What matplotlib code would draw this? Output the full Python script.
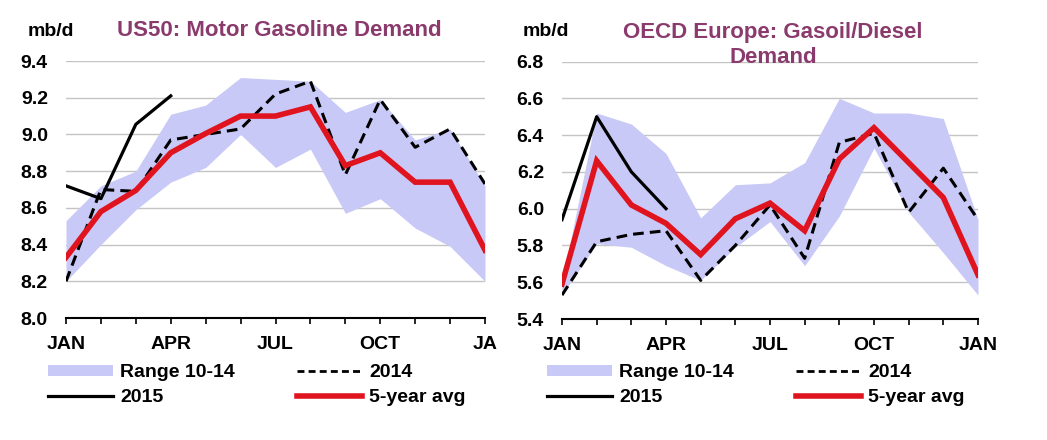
import matplotlib
matplotlib.use("Agg")
import matplotlib.pyplot as plt
from matplotlib.patches import Patch
from matplotlib.lines import Line2D

plt.rcParams['font.family'] = ['Liberation Sans', 'DejaVu Sans']
plt.rcParams['font.weight'] = 'bold'

months = list(range(13))
tick_labels_left = ["JAN", "", "", "APR", "", "", "JUL", "", "", "OCT", "", "", "JA"]
tick_labels_right = ["JAN", "", "", "APR", "", "", "JUL", "", "", "OCT", "", "", "JAN"]

# US50 Motor Gasoline Demand (mb/d)
us_range_low = [8.20, 8.40, 8.59, 8.74, 8.82, 9.00, 8.82, 8.92, 8.57, 8.65, 8.49, 8.39, 8.20]
us_range_high = [8.53, 8.72, 8.80, 9.11, 9.16, 9.31, 9.30, 9.29, 9.12, 9.19, 8.97, 9.03, 8.72]
us_2014 = [8.20, 8.70, 8.69, 8.97, 9.00, 9.03, 9.22, 9.29, 8.78, 9.19, 8.93, 9.03, 8.73]
us_2015 = [8.72, 8.65, 9.055, 9.21]
us_avg = [8.33, 8.58, 8.695, 8.90, 9.005, 9.10, 9.10, 9.15, 8.83, 8.90, 8.74, 8.74, 8.37]
us_yticks = [8.0, 8.2, 8.4, 8.6, 8.8, 9.0, 9.2, 9.4]

# OECD Europe Gasoil/Diesel Demand (mb/d)
eu_range_low = [5.53, 5.81, 5.79, 5.69, 5.61, 5.79, 5.93, 5.69, 5.96, 6.33, 5.98, 5.76, 5.53]
eu_range_high = [5.60, 6.52, 6.46, 6.30, 5.95, 6.13, 6.14, 6.25, 6.60, 6.52, 6.52, 6.49, 5.94]
eu_2014 = [5.53, 5.82, 5.86, 5.88, 5.61, 5.80, 6.02, 5.73, 6.36, 6.41, 5.98, 6.22, 5.94]
eu_2015 = [5.94, 6.50, 6.20, 6.00]
eu_avg = [5.59, 6.26, 6.02, 5.92, 5.75, 5.945, 6.03, 5.88, 6.27, 6.44, 6.25, 6.06, 5.64]
eu_yticks = [5.4, 5.6, 5.8, 6.0, 6.2, 6.4, 6.6, 6.8]

FILL = '#C9C9F7'
RED = '#E0141E'
TITLE = '#8A3A6C'
GRID = '#C4C4C4'

W, H = 1047, 440
fig = plt.figure(figsize=(W / 100, H / 100), dpi=100)


def px(x, y):
    return x / W, 1 - y / H


def draw(ax, low, high, y14, y15, avg, yticks, xlabels):
    ax.fill_between(months, low, high, color=FILL, lw=0, zorder=1)
    ax.plot(months, y14, color='black', lw=2.2, ls=(0, (3.5, 2)), zorder=3)
    ax.plot(months[:len(y15)], y15, color='black', lw=2.3, zorder=4)
    ax.plot(months, avg, color=RED, lw=4.0, zorder=5, solid_joinstyle='miter')
    ax.set_xlim(0, 12)
    ax.set_ylim(yticks[0], yticks[-1])
    ax.set_yticks(yticks)
    ax.set_yticklabels([f"{v:.1f}" for v in yticks])
    ax.set_xticks(months)
    ax.set_xticklabels(xlabels)
    ax.set_axisbelow(True)
    ax.grid(axis='y', color=GRID, lw=1.0, zorder=0)
    for s in ['top', 'left', 'right']:
        ax.spines[s].set_visible(False)
    ax.spines['bottom'].set_color('black')
    ax.spines['bottom'].set_linewidth(1.5)
    ax.spines['bottom'].set_zorder(6)
    ax.tick_params(axis='y', length=0, pad=13, labelsize=14)
    ax.tick_params(axis='x', direction='out', length=4.5, width=1.2, pad=8.5, labelsize=14)
    for lbl in ax.get_xticklabels() + ax.get_yticklabels():
        lbl.set_fontweight('bold')


axL = fig.add_axes([66 / W, 1 - 318 / H, 419 / W, 257 / H])
draw(axL, us_range_low, us_range_high, us_2014, us_2015, us_avg, us_yticks, tick_labels_left)
axR = fig.add_axes([562 / W, 1 - 319 / H, 416 / W, 257.5 / H])
draw(axR, eu_range_low, eu_range_high, eu_2014, eu_2015, eu_avg, eu_yticks, tick_labels_right)

# titles and units
fig.text(*px(279, 30), "US50: Motor Gasoline Demand", color=TITLE, fontsize=16,
         fontweight='bold', ha='center', va='center')
fig.text(*px(773, 45), "OECD Europe: Gasoil/Diesel\nDemand", color=TITLE, fontsize=16,
         fontweight='bold', ha='center', va='center', linespacing=1.22)
fig.text(*px(28, 32), "mb/d", fontsize=14, fontweight='bold', ha='left', va='center')
fig.text(*px(523, 32), "mb/d", fontsize=14, fontweight='bold', ha='left', va='center')

# legends
def make_legend(x0):
    handles = [
        Patch(facecolor=FILL, edgecolor='none'),
        Line2D([], [], color='black', lw=2.3),
        Line2D([], [], color='black', lw=2.0, ls=(0, (2.5, 1.5))),
        Line2D([], [], color=RED, lw=4.0),
    ]
    labels = ["Range 10-14", "2015", "2014", "5-year avg"]
    leg = fig.legend(handles, labels, ncol=2, loc='upper left',
                     bbox_to_anchor=px(x0, 364), bbox_transform=fig.transFigure,
                     frameon=False, borderpad=0, borderaxespad=0,
                     handlelength=3.35, handleheight=0.5, handletextpad=0.36,
                     columnspacing=3.2, labelspacing=0.4,
                     prop={'family': ['Liberation Sans', 'DejaVu Sans'], 'weight': 'bold', 'size': 14})
    return leg

make_legend(48)
make_legend(547)

fig.savefig("out.png", dpi=100)
